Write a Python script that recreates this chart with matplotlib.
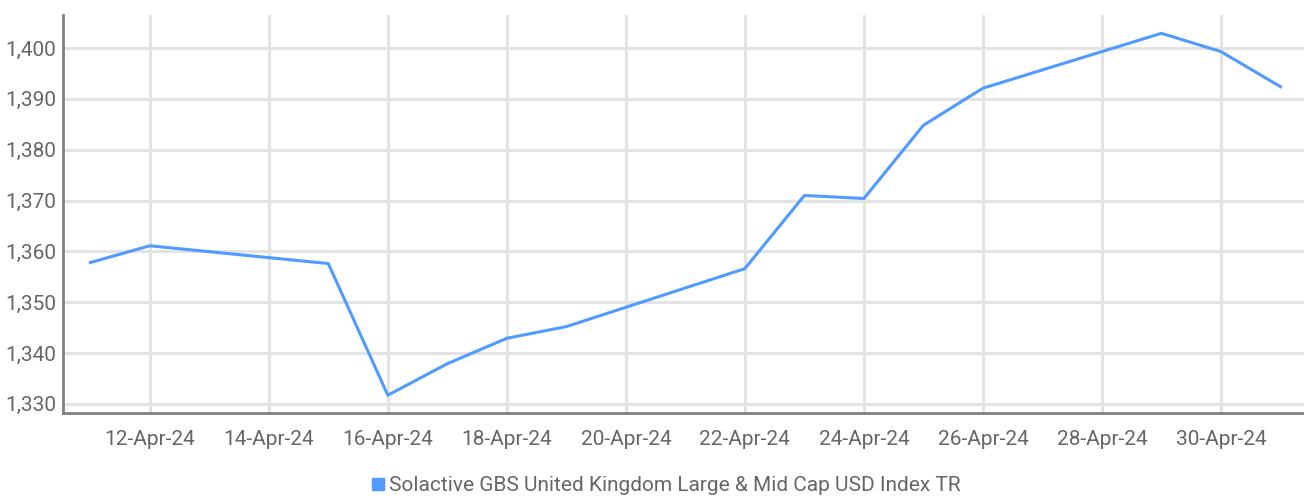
import matplotlib
matplotlib.use("Agg")
import matplotlib.pyplot as plt
import matplotlib.dates as mdates
from matplotlib.lines import Line2D
import numpy as np
import datetime as dt

dates = ["2024-04-11", "2024-04-12", "2024-04-15", "2024-04-16", "2024-04-17",
         "2024-04-18", "2024-04-19", "2024-04-22", "2024-04-23", "2024-04-24",
         "2024-04-25", "2024-04-26", "2024-04-29", "2024-04-30", "2024-05-01"]
values = [1357.8, 1361.1, 1357.6, 1331.7, 1337.9, 1342.9, 1345.2, 1356.6,
          1371.0, 1370.4, 1384.8, 1392.1, 1402.9, 1399.3, 1392.4]
yticks = [1330, 1340, 1350, 1360, 1370, 1380, 1390, 1400]
series_name = "Solactive GBS United Kingdom Large & Mid Cap USD Index TR"

fam = ["Liberation Sans Narrow", "Roboto", "DejaVu Sans"]
plt.rcParams['font.family'] = fam

x = [dt.datetime.strptime(d, "%Y-%m-%d") for d in dates]
color = "#4F9BFF"
txt = "#666666"

fig = plt.figure(figsize=(13.04, 4.98), dpi=100)
ax = fig.add_axes([63/1304, 1 - 413/498, 1 - 63/1304, (413 - 15)/498])
ax.plot(x, values, color=color, lw=2.2, zorder=3)

ax.set_xlim(dt.datetime(2024, 4, 10, 13, 0), dt.datetime(2024, 5, 1, 9, 30))
ax.set_ylim(1328.2, 1406.5)
ax.set_yticks(yticks)
ax.yaxis.set_major_formatter(matplotlib.ticker.FuncFormatter(lambda v, p: f"{int(v):,}"))
ax.xaxis.set_major_locator(mdates.DayLocator(bymonthday=range(12, 31, 2)))
ax.xaxis.set_major_formatter(mdates.DateFormatter("%d-%b-%y"))

ax.grid(True, color="#E3E3E3", lw=2.2, zorder=0)
for s in ["top", "right"]:
    ax.spines[s].set_visible(False)
for s in ["left", "bottom"]:
    ax.spines[s].set_color("#808080")
    ax.spines[s].set_linewidth(2)
ax.tick_params(length=0, labelsize=15, colors=txt, pad=5)
ax.tick_params(axis="x", pad=12)

handle = Line2D([], [], marker="s", color="none", markerfacecolor=color,
                markeredgecolor=color, markersize=8)
fig.legend([handle], [series_name], loc="center", bbox_to_anchor=(0.51, 0.025),
           frameon=False, fontsize=15, labelcolor=txt, handletextpad=0.1,
           handlelength=0.8)

fig.savefig("out.png", dpi=100)
